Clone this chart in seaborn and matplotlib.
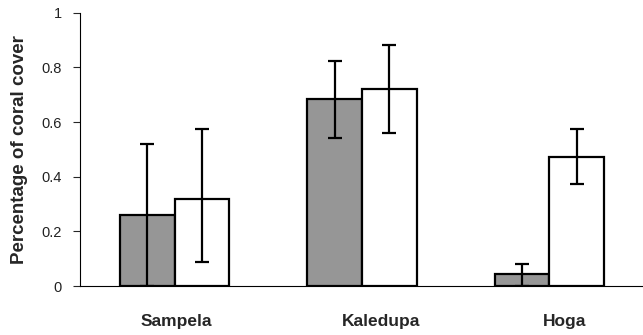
from matplotlib import pyplot as plt
import numpy as np
import pandas as pd
import seaborn as sns

sites = ["Sampela", "Kaledupa", "Hoga"]
groups = ["A", "B"]
cover_a = [0.26, 0.684, 0.043]
cover_b = [0.317, 0.721, 0.473]
err_lo_a = [0.26, 0.144, 0.043]
err_hi_a = [0.26, 0.14, 0.037]
err_lo_b = [0.229, 0.162, 0.101]
err_hi_b = [0.257, 0.161, 0.10]
yticks = [0, 0.2, 0.4, 0.6, 0.8, 1]
ytick_labels = ["0", "0.2", "0.4", "0.6", "0.8", "1"]

df = pd.DataFrame(
    {
        "site": sites * 2,
        "group": [groups[0]] * 3 + [groups[1]] * 3,
        "cover": cover_a + cover_b,
    }
)

sns.set_style("white")
plt.rcParams["font.family"] = ["Liberation Sans", "DejaVu Sans"]

fig = plt.figure(figsize=(6.43, 3.35), dpi=100)
ax = fig.add_axes([80 / 643, 1 - 286 / 335, 1 - 80 / 643, (286 - 12.7) / 335])

sns.barplot(
    data=df,
    x="site",
    y="cover",
    hue="group",
    order=sites,
    hue_order=groups,
    palette=["#969696", "white"],
    width=0.585,
    edgecolor="black",
    linewidth=1.6,
    errorbar=None,
    legend=False,
    ax=ax,
)

# error bars at the centre of every bar
errs = [(err_lo_a, err_hi_a), (err_lo_b, err_hi_b)]
for cont, (lo, hi) in zip(ax.containers, errs):
    xs = [p.get_x() + p.get_width() / 2 for p in cont.patches]
    ys = [p.get_height() for p in cont.patches]
    ax.errorbar(
        xs, ys, yerr=[lo, hi], fmt="none", ecolor="black",
        elinewidth=1.6, capsize=4.7, capthick=1.6, zorder=5,
    )

ax.set_xlim(-0.505, 2.49)
ax.set_ylim(0, 1)
ax.set_yticks(yticks)
ax.set_yticklabels(ytick_labels, fontsize=10.5, color="#222222")
ax.set_xticks([-0.5, 0.5, 1.5, 2.5])
ax.set_xticklabels([])
# the site names sit a little right of the bar groups in the original
label_shift = [0.01, 0.1, 0.08]
ax.set_xticks([i + s for i, s in enumerate(label_shift)], minor=True)
ax.set_xticklabels(sites, minor=True, fontsize=12.5, fontweight="bold")
ax.tick_params(axis="x", which="minor", length=0, pad=20)
ax.tick_params(axis="x", which="major", length=4, width=0.8, direction="out")
ax.tick_params(axis="y", length=5, width=0.8, direction="out", pad=8, left=True)
ax.set_xlabel("")
ax.set_ylabel("Percentage of coral cover", fontsize=13.5, fontweight="bold", labelpad=10)

for s in ["top", "right"]:
    ax.spines[s].set_visible(False)
for s in ["left", "bottom"]:
    ax.spines[s].set_linewidth(0.8)
    ax.spines[s].set_color("black")

fig.savefig("out.png", dpi=100)
